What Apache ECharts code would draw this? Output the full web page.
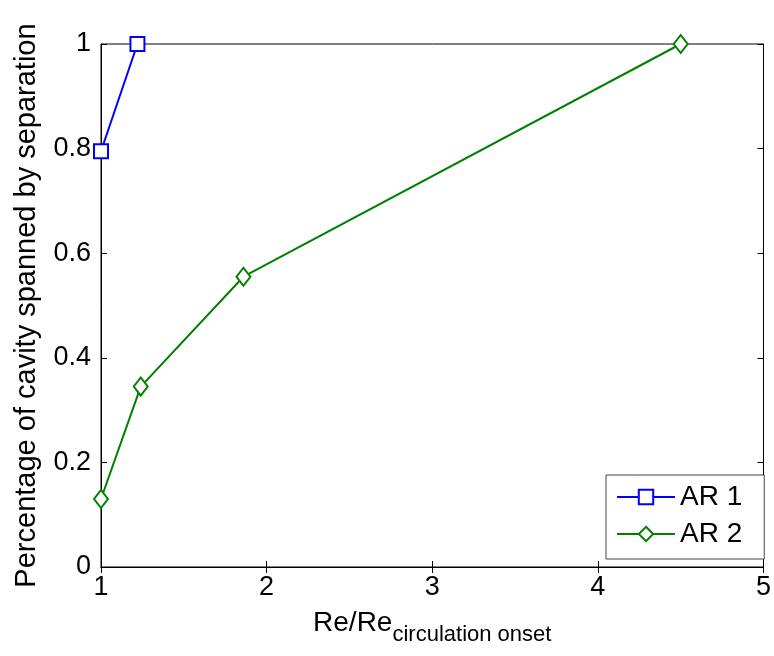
<!DOCTYPE html>
<html>
<head>
<meta charset="utf-8">
<script src="https://cdn.jsdelivr.net/npm/echarts@6/dist/echarts.min.js"></script>
<style>html,body{margin:0;padding:0;background:#fff;}#c{width:774px;height:656px;}</style>
</head>
<body>
<div id="c"></div>
<script>
const ar1X = [1.0, 1.22];
const ar1Y = [0.795, 1.0];
const ar2X = [1.0, 1.24, 1.86, 4.5];
const ar2Y = [0.13, 0.345, 0.555, 1.0];
const seriesNames = ['AR 1', 'AR 2'];
const xTicks = [1, 2, 3, 4, 5];
const yTicks = [0, 0.2, 0.4, 0.6, 0.8, 1];
const xTitle = 'Re/Re';
const xTitleSub = 'circulation onset';
const yTitle = 'Percentage of cavity spanned by separation';

const FONT = 'Liberation Sans, Arial, sans-serif';
const chart = echarts.init(document.getElementById('c'), null, {renderer: 'canvas'});
const pair = (xs, ys) => xs.map((x, i) => [x, ys[i]]);
const tick = {show: true, inside: true, length: 6, lineStyle: {color: '#000', width: 1}};
const axLine = {show: true, lineStyle: {color: '#000', width: 1}};

chart.setOption({
  animation: false,
  backgroundColor: '#fff',
  textStyle: {fontFamily: FONT, color: '#000'},
  grid: {left: 101, right: 9, top: 44, bottom: 89, show: true, borderColor: '#000', borderWidth: 1, backgroundColor: 'transparent'},
  xAxis: [{
    type: 'value', min: xTicks[0], max: xTicks[xTicks.length - 1], interval: 1,
    position: 'bottom',
    axisLine: axLine, axisTick: tick, splitLine: {show: false},
    axisLabel: {fontSize: 27, color: '#000', fontFamily: FONT, margin: 7},
    name: '{a|' + xTitle + '}{b|' + xTitleSub + '}',
    nameLocation: 'middle', nameGap: 42,
    nameTextStyle: {
      rich: {
        a: {fontSize: 28, fontFamily: FONT, color: '#000', lineHeight: 30, verticalAlign: 'top'},
        b: {fontSize: 22, fontFamily: FONT, color: '#000', lineHeight: 30, padding: [15, 0, 0, 0], verticalAlign: 'top'}
      }
    }
  }, {
    type: 'value', min: xTicks[0], max: xTicks[xTicks.length - 1], interval: 1,
    position: 'top',
    axisLine: axLine, axisTick: tick, splitLine: {show: false}, axisLabel: {show: false}
  }],
  yAxis: [{
    type: 'value', min: yTicks[0], max: yTicks[yTicks.length - 1], interval: 0.2,
    position: 'left',
    axisLine: axLine, axisTick: tick, splitLine: {show: false},
    axisLabel: {fontSize: 27, color: '#000', fontFamily: FONT, margin: 10},
    name: yTitle, nameLocation: 'middle', nameGap: 60,
    nameTextStyle: {fontSize: 29, fontFamily: FONT, color: '#000'}
  }, {
    type: 'value', min: yTicks[0], max: yTicks[yTicks.length - 1], interval: 0.2,
    position: 'right',
    axisLine: axLine, axisTick: tick, splitLine: {show: false}, axisLabel: {show: false}
  }],
  legend: {
    orient: 'vertical', left: 606, top: 475,
    backgroundColor: '#fff', borderColor: '#444', borderWidth: 1,
    padding: [8, 22, 11, 10], itemGap: 9, itemWidth: 58, itemHeight: 18,
    textStyle: {fontSize: 28, fontFamily: FONT, color: '#000'},
    data: seriesNames
  },
  series: [{
    name: seriesNames[0], type: 'line', data: pair(ar1X, ar1Y),
    symbol: 'emptyRect', symbolSize: 14, color: '#0000ff',
    lineStyle: {color: '#0000ff', width: 2}, itemStyle: {color: '#0000ff', borderWidth: 2}
  }, {
    name: seriesNames[1], type: 'line', data: pair(ar2X, ar2Y),
    symbol: 'emptyDiamond', symbolSize: [14, 18], color: '#008000',
    lineStyle: {color: '#008000', width: 2}, itemStyle: {color: '#008000', borderWidth: 2}
  }]
});
</script>
</body>
</html>
